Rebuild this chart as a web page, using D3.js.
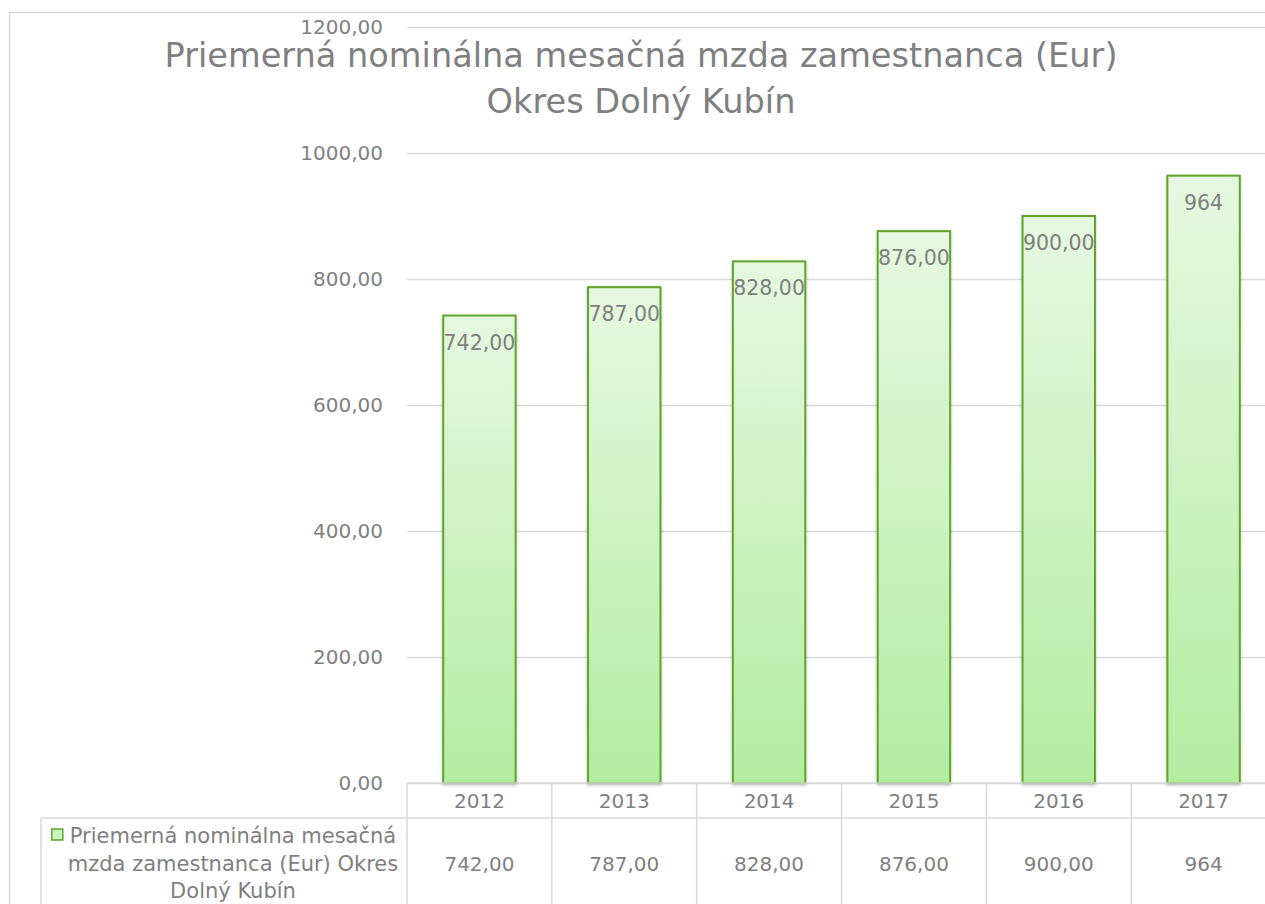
<!DOCTYPE html>
<html>
<head>
<meta charset="utf-8">
<script src="https://cdn.jsdelivr.net/npm/d3@7/dist/d3.min.js"></script>
<style>
  html, body { margin: 0; padding: 0; background: #ffffff; }
  svg { display: block; }
  text { font-family: "DejaVu Sans", sans-serif; fill: #7f7f7f; }
</style>
</head>
<body>
<svg id="chart" width="1265" height="904"></svg>
<script>
// Average nominal monthly wage, Dolný Kubín district
const years = ["2012", "2013", "2014", "2015", "2016", "2017"];
const wages = [742, 787, 828, 876, 900, 964];
const wageLabels = ["742,00", "787,00", "828,00", "876,00", "900,00", "964"];
const yTicks = [0, 200, 400, 600, 800, 1000, 1200];
const titleLines = ["Priemerná nominálna mesačná mzda zamestnanca (Eur)", "Okres Dolný Kubín"];
const seriesNameLines = ["Priemerná nominálna mesačná", "mzda zamestnanca (Eur) Okres", "Dolný Kubín"];

const svg = d3.select("#chart");
const W = 1265, H = 904;
const plot = { left: 407, right: 1276, top: 27, bottom: 783 };
const gridColor = "#d9d9d9";

svg.append("rect").attr("width", W).attr("height", H).attr("fill", "#fff");

// chart frame
svg.append("rect")
  .attr("x", 9.5).attr("y", 12.5)
  .attr("width", 1300).attr("height", 1000)
  .attr("fill", "none").attr("stroke", gridColor).attr("stroke-width", 1.5);

const defs = svg.append("defs");
const grad = defs.append("linearGradient")
  .attr("id", "barFill").attr("x1", 0).attr("y1", 0).attr("x2", 0).attr("y2", 1);
grad.append("stop").attr("offset", "0%").attr("stop-color", "#e6f8e0");
grad.append("stop").attr("offset", "100%").attr("stop-color", "#b3eca1");
const shadow = defs.append("filter").attr("id", "barShadow")
  .attr("x", "-20%").attr("y", "-20%").attr("width", "140%").attr("height", "140%");
shadow.append("feDropShadow")
  .attr("dx", 0).attr("dy", 1.5).attr("stdDeviation", 1.5)
  .attr("flood-color", "#000").attr("flood-opacity", 0.25);

const x = d3.scaleBand()
  .domain(years)
  .range([plot.left, plot.right])
  .paddingInner(0.5)
  .paddingOuter(0.25);

const y = d3.scaleLinear()
  .domain([0, 1200])
  .range([plot.bottom, plot.top]);

// value axis with gridlines
const fmt = v => d3.format(".2f")(v).replace(".", ",");
const yAxis = d3.axisLeft(y)
  .tickValues(yTicks)
  .tickFormat(fmt)
  .tickSize(-(plot.right - plot.left))
  .tickPadding(24);

const gy = svg.append("g")
  .attr("transform", `translate(${plot.left},0)`)
  .call(yAxis);
gy.select(".domain").remove();
gy.selectAll(".tick line").attr("stroke", gridColor).attr("stroke-width", 1.5);
gy.selectAll(".tick text")
  .attr("font-size", 20)
  .attr("fill", "#7f7f7f")
  .style("font-family", "'DejaVu Sans', sans-serif");

// title
const title = svg.append("text")
  .attr("text-anchor", "middle")
  .attr("font-size", 33.6);
title.selectAll("tspan")
  .data(titleLines)
  .join("tspan")
  .attr("x", 641)
  .attr("y", (d, i) => 67 + i * 46)
  .text(d => d);

// bars
svg.append("g").selectAll("rect")
  .data(years)
  .join("rect")
  .attr("x", d => x(d))
  .attr("y", (d, i) => y(wages[i]))
  .attr("width", x.bandwidth())
  .attr("height", (d, i) => y(0) - y(wages[i]))
  .attr("fill", "url(#barFill)")
  .attr("stroke", "#5fa52c")
  .attr("stroke-width", 2)
  .attr("filter", "url(#barShadow)");

// data labels inside bar tops
svg.append("g").selectAll("text")
  .data(years)
  .join("text")
  .attr("x", d => x(d) + x.bandwidth() / 2)
  .attr("y", (d, i) => y(wages[i]) + 34)
  .attr("text-anchor", "middle")
  .attr("font-size", 20.5)
  .text((d, i) => wageLabels[i]);

// data table under the plot
const step = x.step();
const tableTop = plot.bottom, rowLine = 818, tableBottom = 960;
const tbl = svg.append("g").attr("stroke", gridColor).attr("stroke-width", 1.5);
tbl.append("line")
  .attr("x1", plot.left).attr("x2", plot.right + 20)
  .attr("y1", tableTop).attr("y2", tableTop);
tbl.append("line")
  .attr("x1", 41).attr("x2", plot.right + 20)
  .attr("y1", rowLine).attr("y2", rowLine);
tbl.append("line")
  .attr("x1", 41).attr("x2", 41)
  .attr("y1", rowLine).attr("y2", tableBottom);
tbl.selectAll("line.col")
  .data(d3.range(years.length + 1))
  .join("line")
  .attr("class", "col")
  .attr("x1", i => plot.left + i * step).attr("x2", i => plot.left + i * step)
  .attr("y1", tableTop).attr("y2", tableBottom);

const center = d => x(d) + x.bandwidth() / 2;
svg.append("g").selectAll("text")
  .data(years)
  .join("text")
  .attr("x", center)
  .attr("y", 808)
  .attr("text-anchor", "middle")
  .attr("font-size", 20)
  .text(d => d);

svg.append("g").selectAll("text")
  .data(years)
  .join("text")
  .attr("x", center)
  .attr("y", 871)
  .attr("text-anchor", "middle")
  .attr("font-size", 20)
  .text((d, i) => wageLabels[i]);

// series name with legend key
const nameG = svg.append("g");
const nameText = nameG.append("text")
  .attr("text-anchor", "middle")
  .attr("font-size", 21);
nameText.selectAll("tspan")
  .data(seriesNameLines)
  .join("tspan")
  .attr("x", 233)
  .attr("y", (d, i) => 843 + i * 27.5)
  .text(d => d);
const firstLen = nameText.select("tspan").node().getComputedTextLength();
nameG.append("rect")
  .attr("x", 233 - firstLen / 2 - 18)
  .attr("y", 829)
  .attr("width", 11).attr("height", 11)
  .attr("fill", "#cdf2c2")
  .attr("stroke", "#5fa52c")
  .attr("stroke-width", 1.5);
</script>
</body>
</html>
